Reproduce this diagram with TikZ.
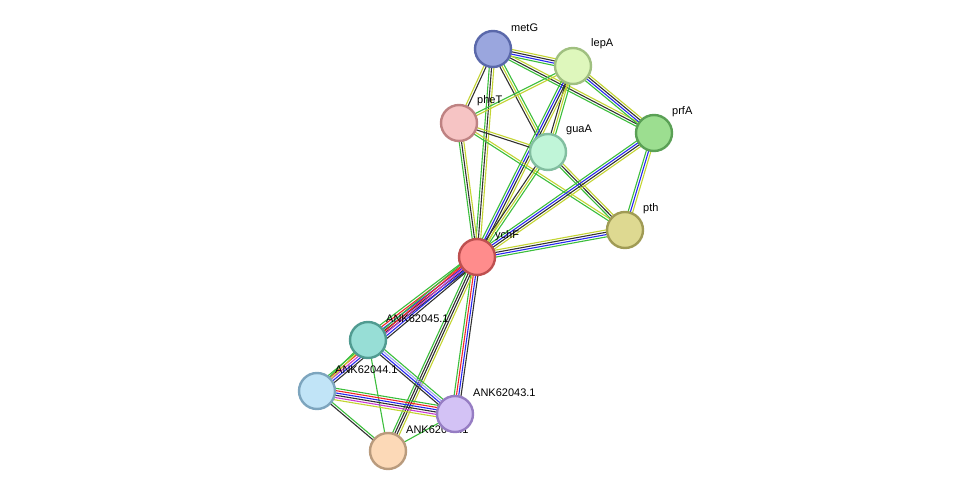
\documentclass[tikz,border=0pt]{standalone}
\usepackage{fontspec}
\setmainfont{Liberation Sans}
\definecolor{eg}{RGB}{60,190,60}
\definecolor{eb}{RGB}{40,40,240}
\definecolor{ek}{RGB}{50,50,50}
\definecolor{ey}{RGB}{195,212,50}
\definecolor{er}{RGB}{240,40,40}
\definecolor{em}{RGB}{200,60,210}
\definecolor{el}{RGB}{160,160,240}
\definecolor{fmetG}{RGB}{154,166,222}\definecolor{dmetG}{RGB}{90,104,170}
\definecolor{flepA}{RGB}{222,247,188}\definecolor{dlepA}{RGB}{160,192,128}
\definecolor{fpheT}{RGB}{246,196,196}\definecolor{dpheT}{RGB}{190,130,130}
\definecolor{fguaA}{RGB}{192,245,216}\definecolor{dguaA}{RGB}{130,190,160}
\definecolor{fprfA}{RGB}{156,222,144}\definecolor{dprfA}{RGB}{90,160,85}
\definecolor{fpth}{RGB}{222,217,145}\definecolor{dpth}{RGB}{160,155,85}
\definecolor{fychF}{RGB}{255,140,140}\definecolor{dychF}{RGB}{190,80,80}
\definecolor{f45}{RGB}{151,222,214}\definecolor{d45}{RGB}{80,155,145}
\definecolor{f44}{RGB}{193,228,247}\definecolor{d44}{RGB}{125,165,190}
\definecolor{f43}{RGB}{211,194,245}\definecolor{d43}{RGB}{150,125,195}
\definecolor{f42}{RGB}{252,217,183}\definecolor{d42}{RGB}{185,155,125}
\newcommand\edgeset[4]{%
 \pgfmathanglebetweenpoints{\pgfpointanchor{#1}{center}}{\pgfpointanchor{#2}{center}}\let\eang\pgfmathresult
 \foreach[count=\i] \c in {#4}{\draw[\c, line width=1.1pt, transform canvas={shift={({\eang+90}:{(\i-(#3+1)/2)*2.3pt})}}] (#1) -- (#2);}}
\tikzset{prot/.style={circle, minimum size=36pt, inner sep=0pt, line width=2.4pt, fill=f#1, draw=d#1},
 lab/.style={anchor=west, font=\fontsize{11}{13}\selectfont, inner sep=1pt}}
\begin{document}
\begin{tikzpicture}[x=1pt,y=-1pt]
\useasboundingbox (0,0) rectangle (975,497);
\coordinate (metG) at (493,49);
\coordinate (lepA) at (573,66);
\coordinate (pheT) at (459,123);
\coordinate (guaA) at (548,152);
\coordinate (prfA) at (654,133);
\coordinate (pth) at (625,230);
\coordinate (ychF) at (477,257);
\coordinate (a45) at (368,340);
\coordinate (a44) at (317,391);
\coordinate (a43) at (455,414);
\coordinate (a42) at (388,451);
\edgeset{metG}{lepA}{4}{eg,eb,ek,ey}
\edgeset{metG}{pheT}{2}{ey,ek}
\edgeset{metG}{guaA}{3}{ek,ey,eg}
\edgeset{metG}{prfA}{3}{eg,ek,ey}
\edgeset{metG}{ychF}{3}{eg,ek,ey}
\edgeset{lepA}{pheT}{2}{eg,ey}
\edgeset{lepA}{guaA}{3}{ek,ey,eg}
\edgeset{lepA}{prfA}{4}{eg,eb,ek,ey}
\edgeset{lepA}{ychF}{4}{eg,eb,ek,ey}
\edgeset{pheT}{guaA}{2}{ek,ey}
\edgeset{pheT}{pth}{2}{eg,ey}
\edgeset{pheT}{ychF}{3}{eg,ek,ey}
\edgeset{guaA}{pth}{3}{eg,ek,ey}
\edgeset{guaA}{ychF}{3}{ek,ey,eg}
\edgeset{prfA}{pth}{3}{eg,eb,ey}
\edgeset{prfA}{ychF}{4}{eg,eb,ek,ey}
\edgeset{pth}{ychF}{4}{ey,ek,eb,eg}
\edgeset{ychF}{a45}{5}{eg,er,eb,ek,ek}
\edgeset{ychF}{a44}{5}{eg,er,em,eb,ek}
\edgeset{ychF}{a43}{4}{eg,er,eb,ek}
\edgeset{ychF}{a42}{4}{eg,ek,ek,ey}
\edgeset{a45}{a44}{2}{eg,ey}
\edgeset{a45}{a43}{4}{ek,eb,el,eg}
\edgeset{a45}{a42}{1}{eg}
\edgeset{a44}{a43}{6}{ey,em,ek,eb,er,eg}
\edgeset{a44}{a42}{2}{ek,eg}
\edgeset{a43}{a42}{1}{eg}
\node[lab] (lmetG) at (510,28) {metG};
\node[lab] (llepA) at (590,44) {lepA};
\node[lab] (lpheT) at (476,101) {pheT};
\node[lab] (lguaA) at (565,130) {guaA};
\node[lab] (lprfA) at (671,112) {prfA};
\node[lab] (lpth) at (642,209) {pth};
\node[lab] (lychF) at (494,236) {ychF};
\node[lab] (l45) at (385,319) {ANK62045.1};
\node[lab] (l44) at (334,370) {ANK62044.1};
\node[lab] (l43) at (472,393) {ANK62043.1};
\node[lab] (l42) at (405,430) {ANK62042.1};
\node[prot=metG] (nmetG) at (metG) {};
\node[prot=lepA] (nlepA) at (lepA) {};
\node[prot=pheT] (npheT) at (pheT) {};
\node[prot=guaA] (nguaA) at (guaA) {};
\node[prot=prfA] (nprfA) at (prfA) {};
\node[prot=pth] (npth) at (pth) {};
\node[prot=ychF] (nychF) at (ychF) {};
\node[prot=45] (n45) at (a45) {};
\node[prot=44] (n44) at (a44) {};
\node[prot=43] (n43) at (a43) {};
\node[prot=42] (n42) at (a42) {};
\end{tikzpicture}
\end{document}
